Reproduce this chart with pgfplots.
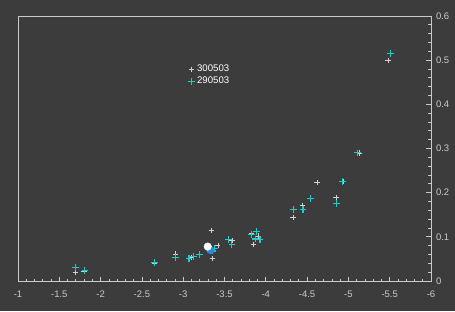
\documentclass[border=0pt]{standalone}
\usepackage{pgfplots}
\pgfplotsset{compat=1.18}
\usepackage{fontspec}
\setmainfont{Liberation Sans}
\usetikzlibrary{backgrounds}
\definecolor{bg}{HTML}{3C3C3C}
\definecolor{axc}{HTML}{CACACA}
\definecolor{gry}{HTML}{D4D0D0}
\definecolor{cyn}{HTML}{1CCCCC}
\definecolor{blu}{HTML}{2E86E0}
\begin{document}
\begin{tikzpicture}[x=1pt,y=1pt]
\begin{axis}[
  name=ax,
  at={(18pt,30pt)}, anchor=south west,
  scale only axis, width=413pt, height=265pt,
  xmin=-6, xmax=-1, ymin=0, ymax=0.6,
  x dir=reverse,
  axis line style={axc, line width=0.8pt},
  xtick={-1,-1.5,-2,-2.5,-3,-3.5,-4,-4.5,-5,-5.5,-6},
  xticklabels={-1,-1.5,-2,-2.5,-3,-3.5,-4,-4.5,-5,-5.5,-6},
  ytick={0,0.1,0.2,0.3,0.4,0.5,0.6},
  yticklabels={0,0.1,0.2,0.3,0.4,0.5,0.6},
  minor x tick num=4, minor y tick num=4,
  xtick pos=bottom, ytick pos=right, yticklabel pos=right,
  tick align=inside,
  major tick length=4.5pt, minor tick length=2.5pt,
  tick style={axc, line width=0.7pt},
  ticklabel style={font=\fontsize{9.5}{11}\selectfont, text=axc},
  xticklabel style={yshift=-6.5pt},
  yticklabel style={xshift=1.5pt},
  legend style={at={(axis cs:-3.06,0.494)}, anchor=north west, draw=none, fill=none,
    text=white, font=\fontsize{9.6}{11}\selectfont, row sep=0pt, inner sep=0pt},
  legend cell align=left,
  legend image code/.code={\draw[#1] plot[only marks] coordinates {(0pt,0pt)};},
  clip=false,
]
\addplot[only marks, mark=+, mark size=2.6pt, draw=gry, line width=0.7pt] coordinates {
(-1.70,0.020) (-1.80,0.021) (-2.65,0.040) (-2.91,0.061) (-3.10,0.054)
(-3.34,0.115) (-3.35,0.051) (-3.42,0.081) (-3.59,0.091) (-3.83,0.108)
(-3.85,0.083) (-3.91,0.102) (-4.33,0.144) (-4.44,0.171) (-4.62,0.223)
(-4.85,0.189) (-4.94,0.225) (-5.13,0.290) (-5.48,0.500)
};
\addlegendentry{300503}
\addplot[only marks, mark=+, mark size=3.4pt, draw=cyn, line width=1.1pt] coordinates {
(-1.70,0.031) (-1.81,0.023) (-2.65,0.041) (-2.91,0.053) (-3.07,0.051)
(-3.12,0.055) (-3.20,0.060) (-3.36,0.068) (-3.38,0.073) (-3.55,0.094)
(-3.59,0.082) (-3.83,0.106) (-3.89,0.112) (-3.87,0.095) (-3.93,0.094)
(-4.34,0.161) (-4.45,0.162) (-4.54,0.186) (-4.86,0.175) (-4.93,0.225)
(-5.11,0.290) (-5.51,0.515)
};
\addlegendentry{290503}
\addplot[only marks, mark=*, mark size=3.8pt, blu, forget plot] coordinates {(-3.33,0.070)};
\addplot[only marks, mark=*, mark size=3.8pt, white, forget plot] coordinates {(-3.297,0.078)};
\end{axis}
\begin{scope}[on background layer]
\fill[bg] (0,0) rectangle (455,311);
\end{scope}
\end{tikzpicture}
\end{document}
